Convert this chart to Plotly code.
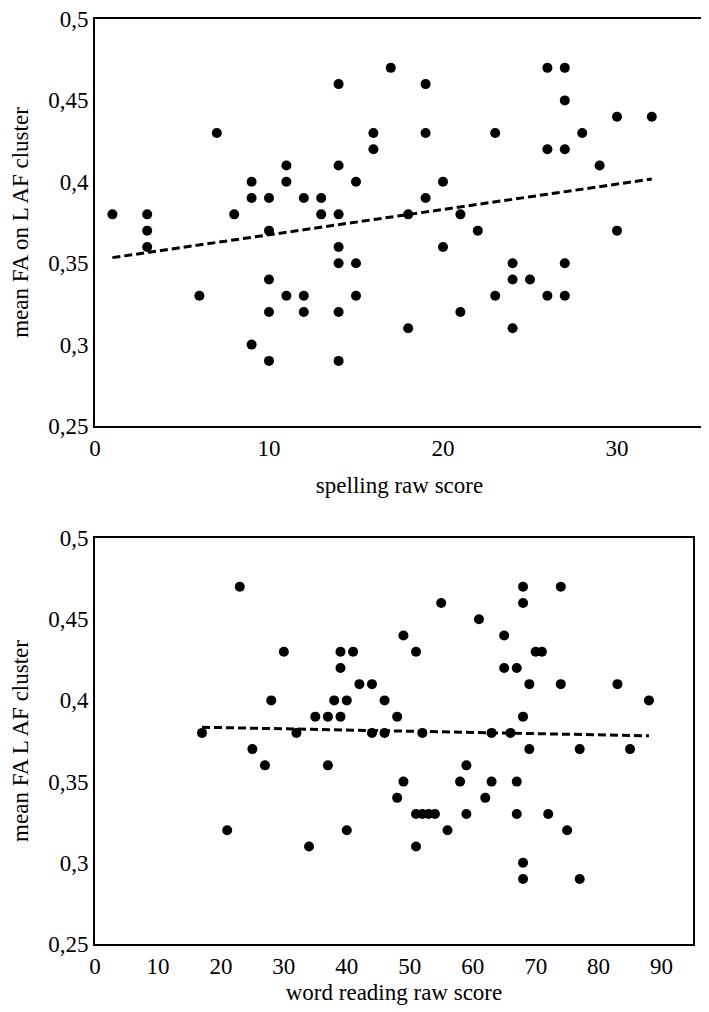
import numpy as np
import plotly.graph_objects as go

# ---- Data: top panel (spelling raw score vs mean FA on L AF cluster)
spelling_score = [1, 3, 3, 3, 6, 7, 8, 9, 9, 9,
                  10, 10, 10, 10, 10, 11, 11, 11, 12, 12,
                  12, 13, 13, 14, 14, 14, 14, 14, 14, 14,
                  15, 15, 15, 16, 16, 17, 18, 18, 19, 19,
                  19, 20, 20, 21, 21, 22, 23, 23, 24, 24,
                  24, 25, 26, 26, 26, 27, 27, 27, 27, 27,
                  28, 29, 30, 30, 32]
spelling_fa = [0.38, 0.38, 0.37, 0.36, 0.33, 0.43, 0.38, 0.40, 0.39, 0.30,
               0.39, 0.37, 0.34, 0.32, 0.29, 0.41, 0.40, 0.33, 0.39, 0.33,
               0.32, 0.39, 0.38, 0.46, 0.41, 0.38, 0.36, 0.35, 0.32, 0.29,
               0.40, 0.35, 0.33, 0.43, 0.42, 0.47, 0.38, 0.31, 0.46, 0.43,
               0.39, 0.40, 0.36, 0.38, 0.32, 0.37, 0.43, 0.33, 0.35, 0.34,
               0.31, 0.34, 0.47, 0.42, 0.33, 0.47, 0.45, 0.42, 0.35, 0.33,
               0.43, 0.41, 0.44, 0.37, 0.44]

# ---- Data: bottom panel (word reading raw score vs mean FA L AF cluster)
reading_score = [17, 21, 23, 25, 27, 28, 30, 32, 34, 35,
                 37, 37, 38, 39, 39, 39, 40, 40, 41, 42,
                 44, 44, 46, 46, 48, 48, 49, 49, 51, 51,
                 51, 52, 52, 53, 54, 55, 56, 58, 59, 59,
                 61, 62, 63, 63, 65, 65, 66, 67, 67, 67,
                 68, 68, 68, 68, 68, 69, 69, 70, 71, 72,
                 74, 74, 75, 77, 77, 83, 85, 88]
reading_fa = [0.38, 0.32, 0.47, 0.37, 0.36, 0.40, 0.43, 0.38, 0.31, 0.39,
              0.39, 0.36, 0.40, 0.43, 0.42, 0.39, 0.40, 0.32, 0.43, 0.41,
              0.41, 0.38, 0.40, 0.38, 0.39, 0.34, 0.44, 0.35, 0.43, 0.33,
              0.31, 0.38, 0.33, 0.33, 0.33, 0.46, 0.32, 0.35, 0.36, 0.33,
              0.45, 0.34, 0.38, 0.35, 0.44, 0.42, 0.38, 0.42, 0.35, 0.33,
              0.47, 0.46, 0.39, 0.30, 0.29, 0.41, 0.37, 0.43, 0.43, 0.33,
              0.47, 0.41, 0.32, 0.37, 0.29, 0.41, 0.37, 0.40]

# ---- Tick labels
y_tickvals = [0.25, 0.30, 0.35, 0.40, 0.45, 0.50]
y_ticktext = ["0,25", "0,3", "0,35", "0,4", "0,45", "0,5"]
x1_tickvals = [0, 10, 20, 30]
x2_tickvals = [0, 10, 20, 30, 40, 50, 60, 70, 80, 90]

W, H = 709, 1012
OFF = 8  # page body margin offset
FONT = "Liberation Serif"


def dx(p):
    return (p - OFF) / W


def dy(p):
    return (H - (p - OFF)) / H


def trend(xs, ys):
    xs = np.asarray(xs, float)
    ys = np.asarray(ys, float)
    b, a = np.polyfit(xs, ys, 1)
    xl = np.array([xs.min(), xs.max()])
    return xl, a + b * xl


fig = go.Figure()

marker = dict(color="black", size=10)
dash_line = dict(color="black", width=3, dash="8px,4px")

fig.add_trace(go.Scatter(x=spelling_score, y=spelling_fa, mode="markers",
                         marker=marker, xaxis="x", yaxis="y", showlegend=False))
tx, ty = trend(spelling_score, spelling_fa)
fig.add_trace(go.Scatter(x=tx, y=ty, mode="lines", line=dash_line,
                         xaxis="x", yaxis="y", showlegend=False))

fig.add_trace(go.Scatter(x=reading_score, y=reading_fa, mode="markers",
                         marker=marker, xaxis="x2", yaxis="y2", showlegend=False))
tx2, ty2 = trend(reading_score, reading_fa)
fig.add_trace(go.Scatter(x=tx2, y=ty2, mode="lines", line=dash_line,
                         xaxis="x2", yaxis="y2", showlegend=False))

axis_common = dict(showline=True, linecolor="black", linewidth=2, mirror=True,
                   showgrid=False, zeroline=False, ticks="", automargin=False,
                   ticklabeloverflow="allow",
                   tickfont=dict(family=FONT, size=23, color="black"))

title_font = dict(family=FONT, size=23, color="black")

fig.update_layout(
    width=W, height=H,
    margin=dict(l=0, r=0, t=0, b=0),
    paper_bgcolor="white", plot_bgcolor="white",
    font=dict(family=FONT, color="black"),
    xaxis=dict(domain=[dx(95), dx(704)], range=[0, 35], tickvals=x1_tickvals,
               anchor="y",
               title=dict(text="spelling raw score", font=title_font, standoff=17),
               **axis_common),
    yaxis=dict(domain=[dy(426), dy(19)], range=[0.25, 0.5],
               tickvals=y_tickvals, ticktext=y_ticktext, anchor="x",
               title=dict(text="mean FA on L AF cluster", font=title_font, standoff=26),
               **axis_common),
    xaxis2=dict(domain=[dx(95), dx(693)], range=[0, 95], tickvals=x2_tickvals,
                anchor="y2",
                title=dict(text="word reading raw score", font=title_font, standoff=6),
                **axis_common),
    yaxis2=dict(domain=[dy(944), dy(538)], range=[0.25, 0.5],
                tickvals=y_tickvals, ticktext=y_ticktext, anchor="x2",
                title=dict(text="mean FA L AF cluster", font=title_font, standoff=26),
                **axis_common),
)

fig.write_html("out.html")
